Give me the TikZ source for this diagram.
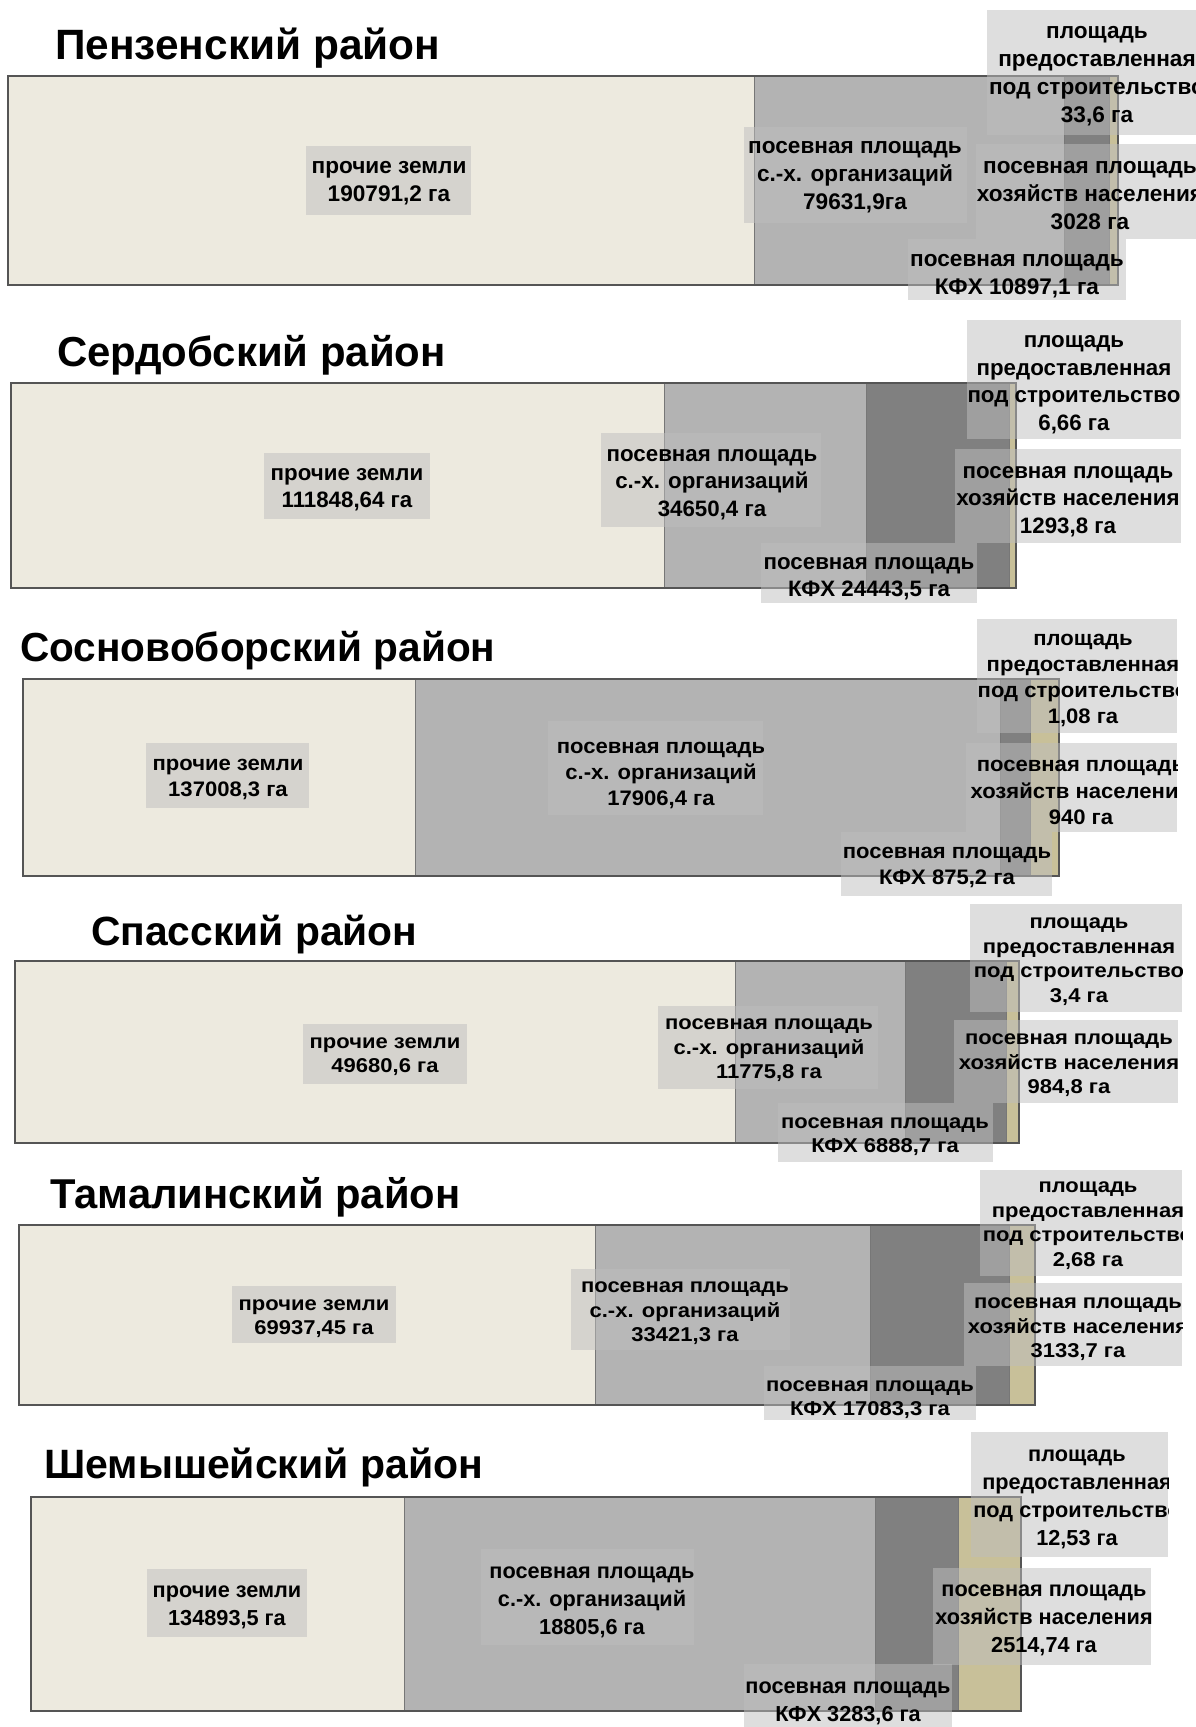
\documentclass[tikz,border=0pt]{standalone}
\usepackage{fontspec}
\setmainfont{Liberation Sans}
\newfontfamily\tagmid{Liberation Sans}[FakeStretch=1.05]
\newfontfamily\tagwide{Liberation Sans}[FakeStretch=1.10]
\usepackage{xcolor}
\usepackage{tikz}

\definecolor{otherland}{RGB}{237,234,223}
\definecolor{orgland}{RGB}{179,179,179}
\definecolor{farmland}{RGB}{128,128,128}
\definecolor{homeland}{RGB}{200,192,153}
\definecolor{tagfill}{RGB}{190,190,190}
\definecolor{frameline}{RGB}{85,85,85}

% #1 name, #2 top, #3 bottom, #4 left, #5 #6 #7 dividers, #8 right
\newcommand\landbar[8]{%
	\fill[otherland] (#4,#2) rectangle (#5,#3);
	\fill[orgland]   (#5,#2) rectangle (#6,#3);
	\fill[farmland]  (#6,#2) rectangle (#7,#3);
	\fill[homeland]  (#7,#2) rectangle (#8,#3);
	\draw[segline] (#5,#2) -- (#5,#3) (#6,#2) -- (#6,#3) (#7,#2) -- (#7,#3);
	\draw[barframe] (#4,#2) rectangle (#8,#3);
	\coordinate (#1) at (#4,#2);}

% #1 name, #2..#5 box, #6 #7 text centre, #8 text
\newcommand\landtag[8]{%
	\begin{scope}
	\clip (#2,#3) rectangle (#4,#5);
	\fill[tagbox] (#2,#3) rectangle (#4,#5);
	\node[tagtext] (#1) at (#6,#7) {#8};
	\end{scope}}

\begin{document}
\begin{tikzpicture}[x=1pt, y=-1pt,
	title/.style={anchor=base west, inner sep=0pt, font=\fontsize{#1}{48}\selectfont\bfseries}]
	\tikzstyle{barframe}=[draw=frameline, line width=1.2pt]
	\tikzstyle{segline}=[draw=frameline!80, line width=0.8pt]
	\tikzstyle{tagbox}=[fill=tagfill, fill opacity=0.5]
	\tikzstyle{tagfont}=[font=\fontsize{22.6}{28}\selectfont\bfseries]
	\tikzstyle{tagtext}=[align=center, inner sep=0pt, yshift=-3.5pt, text=black, tagfont]
	\path[use as bounding box, fill=white] (0,0) rectangle (1195,1727);

	% Пензенский
	\node[title=42.4] (t1) at (55,59) {Пензенский район};
	\landbar{bar1}{76}{285}{8}{754}{1064}{1109}{1118}
	\landtag{o1}{306}{146}{471}{215}{389}{180}{прочие земли\\190791,2 га}
	\landtag{s1}{744}{127}{967}{223}{855}{174}{посевная площадь\\с.-х. организаций\\79631,9га}
	\landtag{b1}{987}{10}{1207}{135}{1097}{73}{площадь\\предоставленная\\под строительство\\33,6 га}
	\landtag{h1}{976}{144}{1204}{239}{1090}{192}{посевная площадь\\хозяйств населения\\3028 га}
	\landtag{k1}{908}{239}{1126}{300}{1017}{273}{посевная площадь\\КФХ 10897,1 га}

	% Сердобский
	\node[title=41.9] (t2) at (57,366) {Сердобский район};
	\landbar{bar2}{383}{588}{11}{664}{866}{1009}{1016}
	\begin{scope}[tagfont/.style={font=\fontsize{22.3}{27.5}\selectfont\bfseries}]
	\landtag{o2}{264}{453}{430}{519}{347}{486}{прочие земли\\111848,64 га}
	\landtag{s2}{601}{433}{821}{527}{712}{481}{посевная площадь\\с.-х. организаций\\34650,4 га}
	\landtag{b2}{967}{320}{1181}{439}{1074}{381}{площадь\\предоставленная\\под строительство\\6,66 га}
	\landtag{h2}{955}{449}{1181}{543}{1068}{498}{посевная площадь\\хозяйств населения\\1293,8 га}
	\landtag{k2}{761}{543}{977}{603}{869}{575}{посевная площадь\\КФХ 24443,5 га}
	\end{scope}

	% Сосновоборский
	\node[title=40.6] (t3) at (20,661) {Сосновоборский район};
	\landbar{bar3}{679}{876}{23}{415}{1000}{1030}{1059}
	\begin{scope}[tagfont/.style={font=\tagmid\fontsize{21}{26.3}\selectfont\bfseries}]
	\landtag{o3}{146}{743}{309}{808}{228}{776}{прочие земли\\137008,3 га}
	\landtag{s3}{548}{721}{763}{815}{661}{772}{посевная площадь\\с.-х. организаций\\17906,4 га}
	\landtag{b3}{977}{619}{1177}{733}{1083}{677}{площадь\\предоставленная\\под строительство\\1,08 га}
	\landtag{h3}{966}{743}{1177}{832}{1081}{789}{посевная площадь\\хозяйств населения\\940 га}
	\landtag{k3}{841}{832}{1052}{896}{947}{864}{посевная площадь\\КФХ 875,2 га}
	\end{scope}

	% Спасский
	\node[title=40.8] (t4) at (91,945) {Спасский район};
	\landbar{bar4}{961}{1143}{15}{735}{905}{1006}{1019}
	\begin{scope}[tagfont/.style={font=\tagwide\fontsize{20}{24.5}\selectfont\bfseries}]
	\landtag{o4}{303}{1024}{467}{1084}{385}{1053}{прочие земли\\49680,6 га}
	\landtag{s4}{658}{1006}{878}{1089}{769}{1047}{посевная площадь\\с.-х. организаций\\11775,8 га}
	\landtag{b4}{970}{904}{1182}{1012}{1079}{958}{площадь\\предоставленная\\под строительство\\3,4 га}
	\landtag{h4}{954}{1020}{1178}{1103}{1069}{1062}{посевная площадь\\хозяйств населения\\984,8 га}
	\landtag{k4}{778}{1103}{993}{1162}{885}{1133}{посевная площадь\\КФХ 6888,7 га}
	\end{scope}

	% Тамалинский
	\node[title=41.7] (t5) at (50,1208) {Тамалинский район};
	\landbar{bar5}{1225}{1405}{19}{595}{870}{1009}{1035}
	\begin{scope}[tagfont/.style={font=\tagwide\fontsize{20}{24.5}\selectfont\bfseries}]
	\landtag{o5}{232}{1286}{396}{1343}{314}{1315}{прочие земли\\69937,45 га}
	\landtag{s5}{571}{1269}{790}{1350}{685}{1310}{посевная площадь\\с.-х. организаций\\33421,3 га}
	\landtag{b5}{980}{1170}{1182}{1276}{1088}{1222}{площадь\\предоставленная\\под строительство\\2,68 га}
	\landtag{h5}{964}{1283}{1182}{1366}{1078}{1326}{посевная площадь\\хозяйств населения\\3133,7 га}
	\landtag{k5}{764}{1366}{976}{1420}{870}{1396}{посевная площадь\\КФХ 17083,3 га}
	\end{scope}

	% Шемышейский
	\node[title=41] (t6) at (44,1478) {Шемышейский район};
	\landbar{bar6}{1497}{1711}{31}{404}{875}{958}{1021}
	\begin{scope}[tagfont/.style={font=\fontsize{21.7}{28}\selectfont\bfseries}]
	\landtag{o6}{147}{1569}{307}{1637}{227}{1604}{прочие земли\\134893,5 га}
	\landtag{s6}{481}{1549}{694}{1645}{592}{1599}{посевная площадь\\с.-х. организаций\\18805,6 га}
	\landtag{b6}{971}{1432}{1168}{1557}{1077}{1496}{площадь\\предоставленная\\под строительство\\12,53 га}
	\landtag{h6}{933}{1568}{1151}{1665}{1044}{1617}{посевная площадь\\хозяйств населения\\2514,74 га}
	\landtag{k6}{744}{1664}{952}{1727}{848}{1700}{посевная площадь\\КФХ 3283,6 га}
	\end{scope}
\end{tikzpicture}
\end{document}
